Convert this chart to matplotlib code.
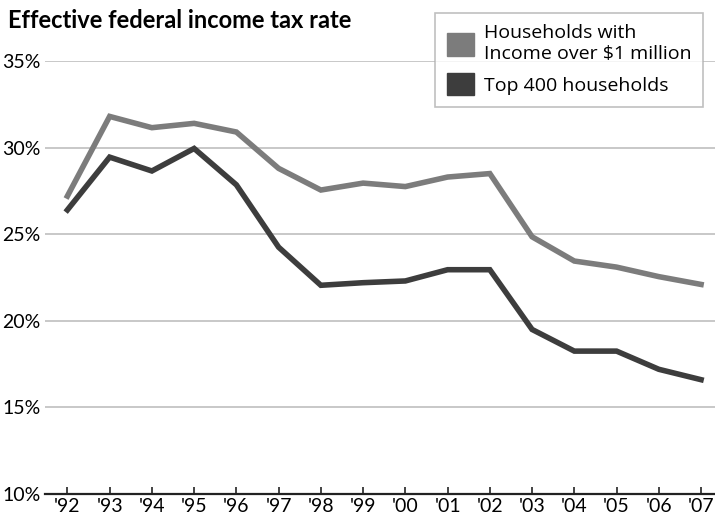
import matplotlib.pyplot as plt
from matplotlib.patches import Patch

years = ["'92", "'93", "'94", "'95", "'96", "'97", "'98", "'99",
         "'00", "'01", "'02", "'03", "'04", "'05", "'06", "'07"]
millionaires = [27.2, 31.8, 31.15, 31.4, 30.9, 28.8, 27.55, 27.95,
                27.75, 28.3, 28.5, 24.85, 23.45, 23.1, 22.55, 22.1]
top400 = [26.4, 29.45, 28.65, 29.95, 27.85, 24.25, 22.05, 22.2,
          22.3, 22.95, 22.95, 19.5, 18.25, 18.25, 17.2, 16.6]
y_ticks = [10, 15, 20, 25, 30, 35]

gray = '#7c7c7c'
dark = '#3d3d3d'
tickfont = ['Lato', 'DejaVu Sans']

fig = plt.figure(figsize=(7.15, 5.26), dpi=100)
ax = fig.add_axes([45 / 715, 32 / 526, 670 / 715, 433 / 526])

x = list(range(len(years)))
ax.plot(x, millionaires, color=gray, lw=4, solid_joinstyle='miter', clip_on=False, zorder=3)
ax.plot(x, top400, color=dark, lw=4, solid_joinstyle='miter', clip_on=False, zorder=3)

ax.set_xlim(-0.53, 15.33)
ax.set_ylim(10, 35)
ax.set_xticks(x)
ax.set_xticklabels(years, fontsize=14, family=tickfont)
ax.set_yticks(y_ticks)
ax.set_yticklabels([f'{v}%' for v in y_ticks], fontsize=14, family=tickfont)
ax.tick_params(axis='x', direction='in', length=5, width=1.2, color='#222222', pad=3)
ax.tick_params(axis='y', length=0, pad=3)
ax.grid(axis='y', color='#c8c8c8', lw=1.4)
ax.set_axisbelow(True)
for s in ['top', 'right', 'left']:
    ax.spines[s].set_visible(False)
ax.spines['bottom'].set_color('#222222')
ax.spines['bottom'].set_linewidth(1.6)
ax.spines['bottom'].set_zorder(4)

fig.text(8 / 715, 1 - 20 / 526, 'Effective federal income tax rate',
         fontsize=17, fontweight='bold', family=['Lato', 'DejaVu Sans'], va='center')

handles = [Patch(facecolor=gray, edgecolor=gray),
           Patch(facecolor=dark, edgecolor=dark)]
leg = fig.legend(handles, ['Households with\nIncome over $1 million', 'Top 400 households'],
                 loc='upper right', bbox_to_anchor=(713 / 715, 1 - 3 / 526),
                 frameon=True, fancybox=False, shadow=False,
                 prop={'family': ['Open Sans', 'DejaVu Sans'], 'size': 14},
                 handlelength=1.4, handleheight=1.4, handletextpad=0.5,
                 labelspacing=0.5, borderpad=0.6)
leg.get_frame().set_edgecolor('#b0b0b0')
leg.get_frame().set_linewidth(1.2)

fig.savefig('out.png', dpi=100)
